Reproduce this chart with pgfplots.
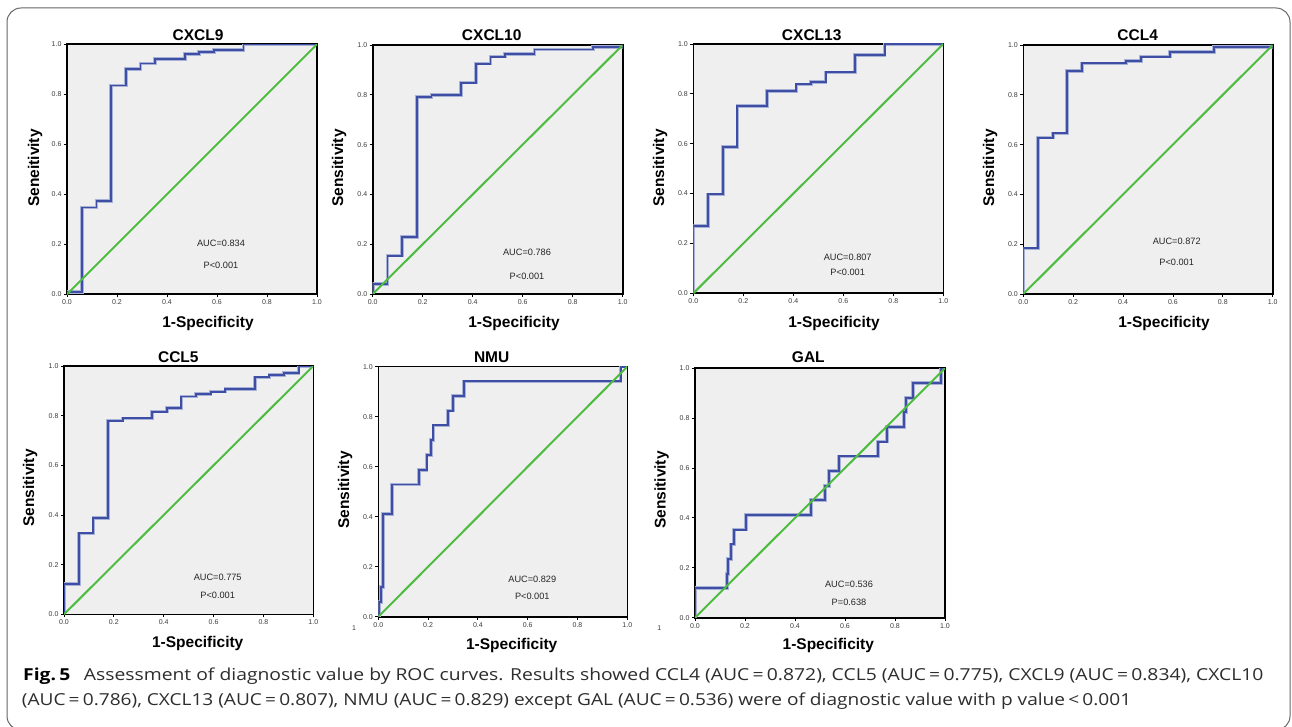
\documentclass[border=0pt]{standalone}
\usepackage{fontspec}
\setmainfont{Liberation Sans}
\newfontfamily\capfont{Open Sans}
\usepackage{graphicx}
\usepackage{pgfplots}
\pgfplotsset{compat=1.18}
\definecolor{bgc}{RGB}{239,239,239}
\definecolor{rocblue}{RGB}{62,78,165}
\definecolor{rochalo}{RGB}{168,178,214}
\definecolor{rocgreen}{RGB}{78,188,64}
\definecolor{tickc}{RGB}{60,60,60}
\definecolor{capc}{RGB}{45,45,45}
\pgfplotsset{
  rocax/.style={
    scale only axis, anchor=south west,
    xmin=0, xmax=1, ymin=0, ymax=1,
    axis background/.style={fill=bgc},
    axis line style={line width=1.6pt, black},
    xtick={0,0.2,0.4,0.6,0.8,1}, ytick={0,0.2,0.4,0.6,0.8,1},
    tick pos=left,
    tick align=outside, major tick length=3pt,
    tick style={black, line width=0.9pt},
    tick label style={font=\fontsize{7}{8}\selectfont, text=tickc},
    /pgf/number format/assume math mode=true,
    /pgf/number format/fixed, /pgf/number format/fixed zerofill, /pgf/number format/precision=1,
    xticklabel style={yshift=1pt}, yticklabel style={xshift=1pt},
  },
  halo/.style={rochalo, line width=3.6pt, line join=miter},
  curve/.style={rocblue, line width=1.9pt, line join=miter},
  diag/.style={rocgreen, line width=2pt},
}
\newcommand{\roc}[1]{\addplot[halo] coordinates {#1};\addplot[curve] coordinates {#1};\addplot[diag] coordinates {(0,0) (1,1)};}
\tikzset{ttl/.style={font=\fontsize{15.5}{16}\selectfont\bfseries},
         lab/.style={font=\fontsize{15.5}{16}\selectfont\bfseries},
         auc/.style={font=\fontsize{9.2}{10}\selectfont, text=black!85}}
\begin{document}
\begin{tikzpicture}
\path[use as bounding box] (0pt,0pt) rectangle (1292pt,726pt);
\clip (0pt,0pt) rectangle (1292pt,726pt);
\fill[white] (0pt,0pt) rectangle (1292pt,726pt);
\draw[rounded corners=14pt, black!60, line width=1pt] (7pt,-4pt) rectangle (1290pt,718pt);

% CXCL9
\begin{axis}[rocax, at={(67pt,431.7pt)}, width=250pt, height=250pt]
\roc{(0,0)(0,0.01)(0.059,0.01)(0.059,0.347)(0.118,0.347)(0.118,0.373)(0.176,0.373)(0.176,0.835)(0.235,0.835)(0.235,0.901)(0.294,0.901)(0.294,0.923)(0.353,0.923)(0.353,0.94)(0.471,0.94)(0.471,0.96)(0.529,0.96)(0.529,0.968)(0.588,0.968)(0.588,0.977)(0.706,0.977)(0.706,1)(1,1)}
\end{axis}
% CXCL10
\begin{axis}[rocax, at={(372.7pt,432pt)}, width=250pt, height=249pt]
\roc{(0,0)(0,0.039)(0.059,0.039)(0.059,0.154)(0.118,0.154)(0.118,0.23)(0.176,0.23)(0.176,0.79)(0.235,0.79)(0.235,0.798)(0.353,0.798)(0.353,0.849)(0.412,0.849)(0.412,0.925)(0.471,0.925)(0.471,0.953)(0.529,0.953)(0.529,0.964)(0.647,0.964)(0.647,0.982)(0.882,0.982)(0.882,0.993)(1,0.993)(1,1)}
\end{axis}
% CXCL13
\begin{axis}[rocax, at={(693.3pt,432.7pt)}, width=250pt, height=249.3pt]
\roc{(0,0)(0,0.27)(0.059,0.27)(0.059,0.397)(0.118,0.397)(0.118,0.588)(0.176,0.588)(0.176,0.751)(0.294,0.751)(0.294,0.811)(0.412,0.811)(0.412,0.838)(0.471,0.838)(0.471,0.848)(0.529,0.848)(0.529,0.886)(0.647,0.886)(0.647,0.955)(0.765,0.955)(0.765,1)(1,1)}
\end{axis}
% CCL4
\begin{axis}[rocax, at={(1023.3pt,432pt)}, width=249.4pt, height=249pt]
\roc{(0,0)(0,0.183)(0.059,0.183)(0.059,0.628)(0.118,0.628)(0.118,0.645)(0.176,0.645)(0.176,0.896)(0.235,0.896)(0.235,0.926)(0.412,0.926)(0.412,0.936)(0.471,0.936)(0.471,0.953)(0.588,0.953)(0.588,0.972)(0.765,0.972)(0.765,0.993)(1,0.993)(1,1)}
\end{axis}
% CCL5
\begin{axis}[rocax, at={(64pt,111.7pt)}, width=249.3pt, height=248.3pt]
\roc{(0,0)(0,0.123)(0.059,0.123)(0.059,0.326)(0.118,0.326)(0.118,0.387)(0.176,0.387)(0.176,0.78)(0.235,0.78)(0.235,0.789)(0.353,0.789)(0.353,0.816)(0.412,0.816)(0.412,0.83)(0.471,0.83)(0.471,0.877)(0.529,0.877)(0.529,0.887)(0.588,0.887)(0.588,0.897)(0.647,0.897)(0.647,0.907)(0.765,0.907)(0.765,0.954)(0.824,0.954)(0.824,0.964)(0.882,0.964)(0.882,0.973)(0.941,0.973)(0.941,1)(1,1)}
\end{axis}
% NMU
\begin{axis}[rocax, at={(378.3pt,109.3pt)}, width=249pt, height=250pt]
\roc{(0,0)(0.004,0)(0.004,0.059)(0.011,0.059)(0.011,0.118)(0.02,0.118)(0.02,0.412)(0.056,0.412)(0.056,0.529)(0.163,0.529)(0.163,0.588)(0.194,0.588)(0.194,0.647)(0.212,0.647)(0.212,0.706)(0.221,0.706)(0.221,0.765)(0.281,0.765)(0.281,0.824)(0.301,0.824)(0.301,0.882)(0.345,0.882)(0.345,0.941)(0.973,0.941)(0.973,1)(1,1)}
\end{axis}
% GAL
\begin{axis}[rocax, at={(695pt,108.3pt)}, width=250pt, height=249.4pt]
\roc{(0,0)(0,0.118)(0.127,0.118)(0.127,0.176)(0.133,0.176)(0.133,0.235)(0.143,0.235)(0.143,0.294)(0.156,0.294)(0.156,0.353)(0.203,0.353)(0.203,0.412)(0.463,0.412)(0.463,0.471)(0.52,0.471)(0.52,0.529)(0.537,0.529)(0.537,0.588)(0.577,0.588)(0.577,0.647)(0.731,0.647)(0.731,0.706)(0.769,0.706)(0.769,0.765)(0.836,0.765)(0.836,0.824)(0.843,0.824)(0.843,0.882)(0.873,0.882)(0.873,0.941)(0.983,0.941)(0.983,1)(1,1)}
\end{axis}

\begin{scope}[x=1pt,y=1pt]
% titles
\node[ttl] at (198,691) {CXCL9};
\node[ttl] at (491.7,691) {CXCL10};
\node[ttl] at (811.7,691) {CXCL13};
\node[ttl] at (1137.7,691) {CCL4};
\node[ttl] at (178.3,369.3) {CCL5};
\node[ttl] at (491.7,369) {NMU};
\node[ttl] at (808.3,369) {GAL};
% y labels
\node[lab, rotate=90] at (35,558) {Seneitivity};
\node[lab, rotate=90] at (339,558) {Sensitivity};
\node[lab, rotate=90] at (660,558) {Sensitivity};
\node[lab, rotate=90] at (990,558) {Sensitivity};
\node[lab, rotate=90] at (30,238) {Sensitivity};
\node[lab, rotate=90] at (345,236) {Sensitivity};
\node[lab, rotate=90] at (661.7,236) {Sensitivity};
% x labels
\node[lab] at (208,403) {1-Specificity};
\node[lab] at (514,403) {1-Specificity};
\node[lab] at (834,403) {1-Specificity};
\node[lab] at (1164,403) {1-Specificity};
\node[lab] at (197.7,82.7) {1-Specificity};
\node[lab] at (511.7,81) {1-Specificity};
\node[lab] at (828.3,81) {1-Specificity};
% AUC texts
\node[auc] at (221,483) {AUC=0.834};
\node[auc] at (221,461) {P<0.001};
\node[auc] at (527,473.3) {AUC=0.786};
\node[auc] at (527,450) {P<0.001};
\node[auc] at (847.7,469) {AUC=0.807};
\node[auc] at (847.7,454) {P<0.001};
\node[auc] at (1176.7,484.3) {AUC=0.872};
\node[auc] at (1176.7,463.3) {P<0.001};
\node[auc] at (217.7,148.3) {AUC=0.775};
\node[auc] at (217.7,131) {P<0.001};
\node[auc] at (532.3,147) {AUC=0.829};
\node[auc] at (532.3,129.3) {P<0.001};
\node[auc] at (849,141.7) {AUC=0.536};
\node[auc] at (849,123.7) {P=0.638};
% stray marks
\node[font=\fontsize{7}{8}\selectfont, text=tickc] at (354,98.3) {1};
\node[font=\fontsize{7}{8}\selectfont, text=tickc] at (659.3,98.3) {1};

% caption
\node[anchor=base west, inner sep=0pt, text=capc] at (23,45.3) {\resizebox{1240pt}{\height}{\capfont\fontsize{16.5}{18}\selectfont\textcolor{black}{\textbf{Fig.\,5}}\hspace{0.7em}Assessment of diagnostic value by ROC curves. Results showed CCL4 (AUC\,=\,0.872), CCL5 (AUC\,=\,0.775), CXCL9 (AUC\,=\,0.834), CXCL10}};
\node[anchor=base west, inner sep=0pt, text=capc] at (21.7,21) {\resizebox{1109pt}{\height}{\capfont\fontsize{16.5}{18}\selectfont (AUC\,=\,0.786), CXCL13 (AUC\,=\,0.807), NMU (AUC\,=\,0.829) except GAL (AUC\,=\,0.536) were of diagnostic value with p value\,<\,0.001}};
\end{scope}
\end{tikzpicture}
\end{document}
